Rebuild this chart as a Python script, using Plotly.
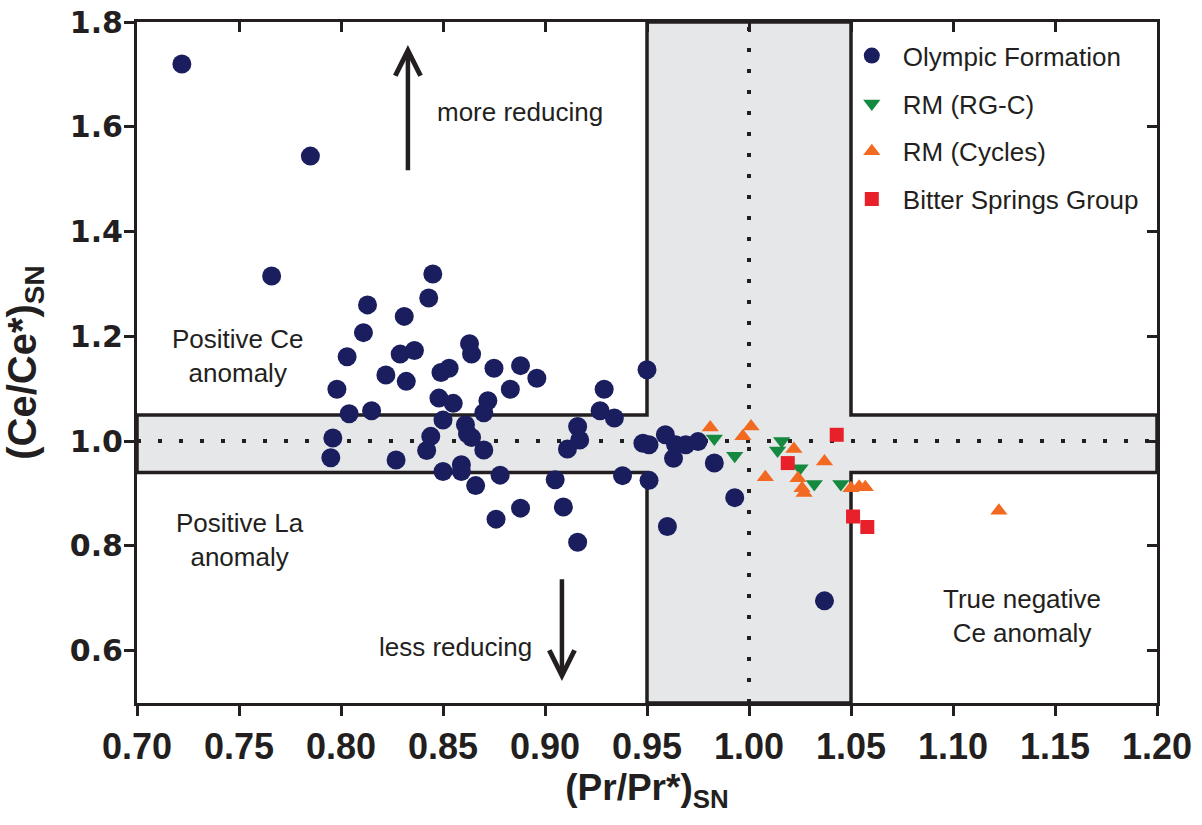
import plotly.graph_objects as go

# ---------------- data ----------------
olympic_x = [0.722, 0.785, 0.766, 0.845, 0.843, 0.813, 0.831, 0.811, 0.863, 0.864,
             0.803, 0.829, 0.836, 0.849, 0.853, 0.875, 0.888, 0.896, 0.822, 0.832,
             0.883, 0.798, 0.848, 0.855, 0.872, 0.870, 0.804, 0.815, 0.850, 0.929,
             0.927, 0.934, 0.861, 0.916, 0.862, 0.864, 0.844, 0.796, 0.917, 0.911,
             0.842, 0.870, 0.795, 0.827, 0.850, 0.859, 0.859, 0.878, 0.866, 0.905,
             0.909, 0.888, 0.876, 0.916, 0.938, 0.950, 0.948, 0.951, 0.959, 0.964,
             0.963, 0.969, 0.975, 0.983, 0.951, 0.993, 0.960, 1.037]
olympic_y = [1.720, 1.544, 1.315, 1.319, 1.273, 1.260, 1.238, 1.207, 1.186, 1.166,
             1.161, 1.166, 1.173, 1.131, 1.139, 1.139, 1.144, 1.120, 1.126, 1.114,
             1.099, 1.099, 1.082, 1.072, 1.077, 1.054, 1.052, 1.058, 1.040, 1.099,
             1.058, 1.044, 1.031, 1.028, 1.014, 1.007, 1.009, 1.006, 1.002, 0.985,
             0.982, 0.983, 0.968, 0.964, 0.942, 0.955, 0.942, 0.935, 0.915, 0.926,
             0.874, 0.872, 0.851, 0.807, 0.934, 1.136, 0.996, 0.993, 1.012, 0.993,
             0.967, 0.993, 0.999, 0.958, 0.925, 0.892, 0.837, 0.695]

rgc_x = [0.983, 0.993, 1.016, 1.014, 1.025, 1.032, 1.045]
rgc_y = [1.005, 0.972, 1.000, 0.982, 0.948, 0.918, 0.918]

cyc_x = [0.981, 1.001, 0.997, 1.022, 1.037, 1.008, 1.024, 1.026, 1.027, 1.050, 1.054, 1.057, 1.1225]
cyc_y = [1.026, 1.028, 1.009, 0.985, 0.961, 0.931, 0.929, 0.910, 0.901, 0.910, 0.913, 0.912, 0.867]

bsg_x = [1.043, 1.019, 1.051, 1.058]
bsg_y = [1.012, 0.958, 0.856, 0.836]

series_names = ["Olympic Formation", "RM (RG-C)", "RM (Cycles)", "Bitter Springs Group"]

x_ticks = [0.70, 0.75, 0.80, 0.85, 0.90, 0.95, 1.00, 1.05, 1.10, 1.15, 1.20]
y_ticks = [0.6, 0.8, 1.0, 1.2, 1.4, 1.6, 1.8]

# region limits
X_MIN, X_MAX = 0.70, 1.20
Y_MIN, Y_MAX = 0.50, 1.80
PR_LO, PR_HI = 0.95, 1.05
CE_LO, CE_HI = 0.94, 1.05

INK = "#231f20"
NAVY = "#1a1e5e"
GREEN = "#15893f"
ORANGE = "#f26a21"
RED = "#e8202a"

fig = go.Figure()

fig.add_trace(go.Scatter(x=olympic_x, y=olympic_y, mode="markers", name=series_names[0],
                         legendgroup="a",
                         marker=dict(symbol="circle", size=19, color=NAVY)))
fig.add_trace(go.Scatter(x=rgc_x, y=rgc_y, mode="markers", name=series_names[1],
                         legendgroup="b",
                         marker=dict(symbol="triangle-down", size=15, color=GREEN)))
fig.add_trace(go.Scatter(x=cyc_x, y=cyc_y, mode="markers", name=series_names[2],
                         legendgroup="c",
                         marker=dict(symbol="triangle-up", size=15, color=ORANGE)))
fig.add_trace(go.Scatter(x=bsg_x, y=bsg_y, mode="markers", name=series_names[3],
                         legendgroup="d",
                         marker=dict(symbol="square", size=14, color=RED)))

# cross-shaped "no anomaly" region
pts = [(X_MIN, CE_LO), (X_MIN, CE_HI), (PR_LO, CE_HI), (PR_LO, Y_MAX), (PR_HI, Y_MAX),
       (PR_HI, CE_HI), (X_MAX, CE_HI), (X_MAX, CE_LO), (PR_HI, CE_LO), (PR_HI, Y_MIN),
       (PR_LO, Y_MIN), (PR_LO, CE_LO)]
path = "M " + " L ".join(f"{px},{py}" for px, py in pts) + " Z"
fig.add_shape(type="path", path=path, xref="x", yref="y", layer="below",
              fillcolor="#e6e7e8", line=dict(color=INK, width=3.5))

# dotted reference lines
fig.add_shape(type="line", xref="x", yref="y", x0=1.0, x1=1.0, y0=Y_MIN, y1=Y_MAX,
              layer="below", line=dict(color=INK, width=4, dash="4px,17px"))
fig.add_shape(type="line", xref="x", yref="y", x0=X_MIN, x1=X_MAX, y0=1.0, y1=1.0,
              layer="below", line=dict(color=INK, width=4, dash="4px,17px"))

txt_font = dict(family="Liberation Sans, Arial", size=26, color=INK)
labels = [
    ("Positive Ce<br>anomaly", 0.7495, 1.163),
    ("Positive La<br>anomaly", 0.7505, 0.811),
    ("True negative<br>Ce anomaly", 1.1338, 0.666),
    ("more reducing", 0.8877, 1.628),
    ("less reducing", 0.8559, 0.607),
]
for t, xx, yy in labels:
    fig.add_annotation(x=xx, y=yy, xref="x", yref="y", text=t, showarrow=False,
                       font=txt_font, align="center")

# arrows
for (hx, hy, tx, ty) in [(0.8328, 1.756, 0.8328, 1.514), (0.9083, 0.542, 0.9083, 0.739)]:
    fig.add_annotation(x=hx, y=hy, ax=tx, ay=ty, xref="x", yref="y", axref="x", ayref="y",
                       text="", showarrow=True, arrowhead=5, arrowsize=1.1,
                       arrowwidth=4.5, arrowcolor=INK, standoff=0)

tick_font_x = dict(family="Liberation Sans, Arial", size=36, color=INK, weight="bold")
tick_font_y = dict(family="DejaVu Sans", size=30, color=INK, weight="bold")
xtitle_font = dict(family="Liberation Sans, Arial", size=37, color=INK, weight="bold")
ytitle_font = dict(family="Liberation Sans, Arial", size=40, color=INK, weight="bold")

fig.update_layout(
    width=1202, height=825,
    margin=dict(l=137, r=45, t=22, b=122),
    paper_bgcolor="white", plot_bgcolor="white",
    showlegend=True,
    legend=dict(x=0.690, y=0.985, xanchor="left", yanchor="top",
                font=dict(family="Liberation Sans, Arial", size=26, color=INK),
                bgcolor="rgba(0,0,0,0)", borderwidth=0, tracegroupgap=11,
                traceorder="grouped", itemwidth=52),
    xaxis=dict(range=[X_MIN, X_MAX], tickvals=x_ticks, tickformat=".2f",
               showgrid=False, zeroline=False, showline=True, linecolor=INK, linewidth=3,
               ticks="outside", ticklen=10, tickwidth=3, tickcolor=INK,
               tickfont=tick_font_x, automargin=False,
               title=dict(text="(Pr/Pr*)<sub>SN</sub>", font=xtitle_font, standoff=8)),
    yaxis=dict(range=[Y_MIN, Y_MAX], tickvals=y_ticks, tickformat=".1f",
               showgrid=False, zeroline=False, showline=True, linecolor=INK, linewidth=3,
               ticks="outside", ticklen=10, tickwidth=3, tickcolor=INK,
               tickfont=tick_font_y, automargin=False, ticklabelstandoff=-5,
               title=dict(text="(Ce/Ce*)<sub>SN</sub>", font=ytitle_font, standoff=24)),
    xaxis2=dict(range=[X_MIN, X_MAX], tickvals=x_ticks, overlaying="x", side="top",
                matches="x", showticklabels=False, showgrid=False, zeroline=False,
                showline=True, linecolor=INK, linewidth=3,
                ticks="inside", ticklen=10, tickwidth=3, tickcolor=INK),
    yaxis2=dict(range=[Y_MIN, Y_MAX], tickvals=y_ticks, overlaying="y", side="right",
                matches="y", showticklabels=False, showgrid=False, zeroline=False,
                showline=True, linecolor=INK, linewidth=3,
                ticks="inside", ticklen=10, tickwidth=3, tickcolor=INK),
)

# attach an empty trace so the mirrored inner-tick axes are drawn
fig.add_trace(go.Scatter(x=[], y=[], xaxis="x2", yaxis="y2", showlegend=False,
                         hoverinfo="skip"))

fig.write_html("out.html")
